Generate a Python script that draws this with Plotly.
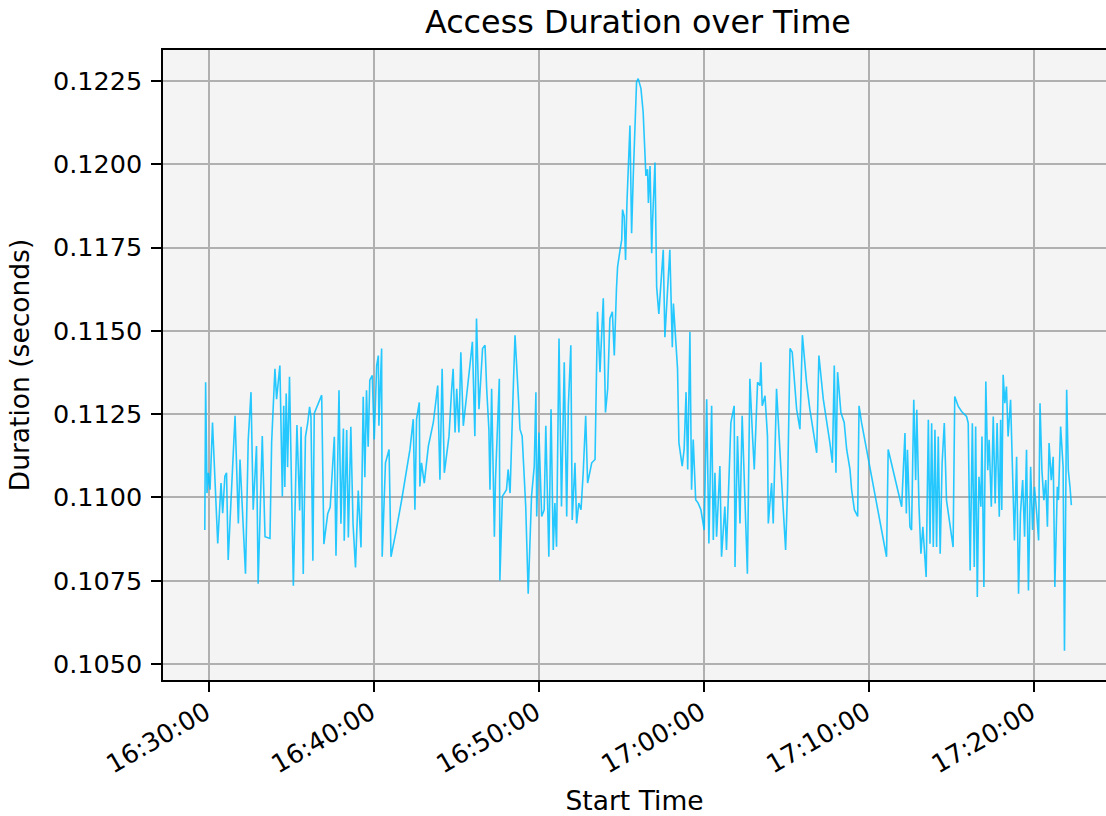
import pandas as pd
import plotly.graph_objects as go

# elapsed seconds after 16:30:00 and access duration (s)
start_base = "2024-01-01 16:30:00"
elapsed_s = [
    -15, -12, -7, -2, 4, 13, 32, 44, 50, 58,
    64, 70, 95, 107, 113, 133, 143, 153, 161, 173,
    179, 194, 204, 222, 228, 240, 246, 258, 267, 272,
    276, 281, 286, 293, 307, 320, 330, 335, 343, 351,
    359, 366, 371, 378, 383, 410, 418, 432, 441, 456,
    462, 473, 480, 489, 492, 501, 507, 516, 524, 533,
    543, 553, 561, 567, 573, 579, 585, 594, 601, 610,
    616, 618, 628, 630, 642, 655, 662, 670, 679, 701,
    713, 725, 731, 743, 749, 755, 765, 767, 773, 783,
    798, 816, 822, 832, 840, 848, 856, 873, 882, 888,
    895, 901, 909, 916, 925, 937, 949, 958, 967, 973,
    982, 995, 1004, 1010, 1018, 1022, 1028, 1038, 1042, 1056,
    1058, 1067, 1082, 1088, 1095, 1107, 1113, 1125, 1131, 1139,
    1149, 1152, 1161, 1173, 1183, 1189, 1192, 1200, 1210, 1219,
    1225, 1236, 1244, 1252, 1258, 1264, 1273, 1282, 1292, 1301,
    1307, 1316, 1321, 1331, 1337, 1345, 1353, 1361, 1370, 1377,
    1392, 1404, 1413, 1422, 1434, 1442, 1450, 1458, 1467, 1474,
    1482, 1486, 1495, 1501, 1504, 1510, 1515, 1520, 1531, 1537,
    1543, 1549, 1555, 1561, 1571, 1579, 1586, 1589, 1595, 1598,
    1604, 1610, 1613, 1622, 1628, 1636, 1652, 1658, 1676, 1685,
    1689, 1701, 1704, 1709, 1721, 1728, 1735, 1741, 1749, 1755,
    1761, 1770, 1779, 1789, 1801, 1810, 1818, 1828, 1834, 1840,
    1846, 1858, 1864, 1876, 1882, 1898, 1910, 1913, 1922, 1931,
    1939, 1958, 1967, 1976, 1983, 1995, 2004, 2007, 2012, 2022,
    2031, 2034, 2046, 2052, 2064, 2080, 2088, 2097, 2104, 2113,
    2121, 2137, 2149, 2158, 2173, 2185, 2210, 2218, 2234, 2246,
    2258, 2267, 2274, 2280, 2286, 2298, 2310, 2319, 2331, 2337,
    2347, 2359, 2364, 2373, 2464, 2470, 2494, 2519, 2531, 2536,
    2540, 2549, 2555, 2563, 2570, 2574, 2582, 2589, 2596, 2608,
    2616, 2622, 2628, 2634, 2640, 2646, 2652, 2659, 2666, 2674,
    2682, 2706, 2712, 2725, 2737, 2755, 2761, 2768, 2776, 2783,
    2788, 2794, 2800, 2807, 2811, 2818, 2825, 2832, 2837, 2845,
    2852, 2859, 2866, 2874, 2879, 2883, 2888, 2894, 2900, 2906,
    2915, 2922, 2929, 2937, 2944, 2951, 2959, 2966, 2973, 2980,
    2988, 2995, 3002, 3010, 3017, 3022, 3029, 3036, 3043, 3049,
    3055, 3063, 3070, 3076, 3085, 3089, 3097, 3106, 3111, 3119,
    3125, 3131, 3136,
]
duration_s = [
    0.10902, 0.11346, 0.11013, 0.11074, 0.11023, 0.11225, 0.10862, 0.11043, 0.10953, 0.11064,
    0.11074, 0.10812, 0.11245, 0.10922, 0.11114, 0.10771, 0.11174, 0.11316, 0.10963, 0.11154,
    0.10741, 0.11184, 0.10882, 0.10877, 0.11164, 0.11386, 0.11295, 0.11396, 0.11003, 0.11275,
    0.11031, 0.11312, 0.11091, 0.11362, 0.10735, 0.11217, 0.10961, 0.11212, 0.10770, 0.11182,
    0.11222, 0.11272, 0.11242, 0.10810, 0.11252, 0.11307, 0.10860, 0.10951, 0.10971, 0.11182,
    0.10825, 0.11322, 0.10921, 0.11207, 0.10870, 0.11202, 0.10880, 0.11212, 0.10921, 0.10790,
    0.11021, 0.10850, 0.11302, 0.11061, 0.11322, 0.11152, 0.11352, 0.11366, 0.11174, 0.11396,
    0.11426, 0.11215, 0.11447, 0.10822, 0.11104, 0.11144, 0.10822, 0.10852, 0.10892, 0.10993,
    0.11053, 0.11114, 0.11144, 0.11235, 0.10963, 0.11235, 0.11285, 0.11033, 0.11104, 0.11043,
    0.11154, 0.11225, 0.11275, 0.11336, 0.11053, 0.11386, 0.11074, 0.11184, 0.11316, 0.11386,
    0.11195, 0.11326, 0.11195, 0.11436, 0.11215, 0.11316, 0.11396, 0.11467, 0.11184, 0.11537,
    0.11265, 0.11447, 0.11457, 0.11326, 0.11205, 0.11023, 0.11326, 0.10882, 0.11053, 0.11356,
    0.10751, 0.11003, 0.11023, 0.11084, 0.11013, 0.11336, 0.11487, 0.11305, 0.11205, 0.11184,
    0.11023, 0.10973, 0.10711, 0.11003, 0.11094, 0.11316, 0.10943, 0.11195, 0.10943, 0.10963,
    0.11215, 0.10822, 0.11265, 0.10842, 0.10983, 0.10852, 0.11477, 0.10973, 0.11406, 0.10943,
    0.11275, 0.11457, 0.10932, 0.11104, 0.10922, 0.10983, 0.10963, 0.11074, 0.11245, 0.11043,
    0.11104, 0.11114, 0.11557, 0.11376, 0.11598, 0.11255, 0.11326, 0.11537, 0.11557, 0.11426,
    0.11628, 0.11692, 0.11743, 0.11773, 0.11864, 0.11844, 0.11713, 0.11884, 0.12116, 0.11793,
    0.11965, 0.12136, 0.12247, 0.12257, 0.12227, 0.12156, 0.12005, 0.11965, 0.11985, 0.11884,
    0.11995, 0.11733, 0.11824, 0.12005, 0.11632, 0.11551, 0.11743, 0.11481, 0.11743, 0.11451,
    0.11582, 0.11430, 0.11386, 0.11164, 0.11094, 0.11144, 0.11316, 0.11084, 0.11497, 0.11023,
    0.11174, 0.10993, 0.10983, 0.10963, 0.10902, 0.11295, 0.10862, 0.11275, 0.10872, 0.11074,
    0.10882, 0.11094, 0.10822, 0.10973, 0.10842, 0.11225, 0.11275, 0.10791, 0.11184, 0.10922,
    0.11245, 0.10771, 0.11356, 0.11195, 0.11084, 0.11346, 0.11336, 0.11406, 0.11275, 0.11305,
    0.11184, 0.10922, 0.11043, 0.10922, 0.11326, 0.11084, 0.10973, 0.10842, 0.11023, 0.11447,
    0.11436, 0.11265, 0.11205, 0.11487, 0.11346, 0.11265, 0.11134, 0.11426, 0.11295, 0.11235,
    0.11164, 0.11104, 0.11396, 0.11074, 0.11376, 0.11255, 0.11225, 0.11144, 0.11084, 0.11023,
    0.10963, 0.10943, 0.11275, 0.11225, 0.10822, 0.11144, 0.11062, 0.10972, 0.11193, 0.10952,
    0.11143, 0.10912, 0.10902, 0.11293, 0.11052, 0.11263, 0.10972, 0.10831, 0.10912, 0.10761,
    0.11233, 0.10861, 0.11223, 0.10851, 0.11203, 0.10851, 0.11183, 0.10831, 0.11102, 0.11223,
    0.10992, 0.10851, 0.11303, 0.11273, 0.11258, 0.11243, 0.11223, 0.10781, 0.11223, 0.10791,
    0.11213, 0.10701, 0.11062, 0.10972, 0.11183, 0.10731, 0.11348, 0.11082, 0.11173, 0.10972,
    0.11243, 0.10982, 0.11223, 0.10942, 0.11233, 0.10962, 0.11368, 0.11283, 0.11333, 0.11183,
    0.11293, 0.11102, 0.10871, 0.11122, 0.10711, 0.10952, 0.11052, 0.10882, 0.11143, 0.10721,
    0.11092, 0.10902, 0.11032, 0.10952, 0.10871, 0.11283, 0.11082, 0.10992, 0.11052, 0.10912,
    0.11163, 0.11052, 0.11122, 0.10731, 0.11032, 0.10992, 0.11213, 0.11092, 0.10540, 0.11323,
    0.11082, 0.11032, 0.10977,
]

x_range = ["2024-01-01 16:27:13", "2024-01-01 17:24:22"]
y_range = [0.10452, 0.12343]
y_ticks = [0.1050, 0.1075, 0.1100, 0.1125, 0.1150, 0.1175, 0.1200, 0.1225]

times = pd.Timestamp(start_base) + pd.to_timedelta(elapsed_s, unit="s")

FONT = "DejaVu Sans"
fig = go.Figure(
    go.Scatter(
        x=times, y=duration_s, mode="lines",
        line=dict(color="rgba(0,191,255,0.85)", width=1.6),
    )
)
fig.update_layout(
    width=1106, height=816,
    margin=dict(l=163, r=0, t=50, b=136),
    paper_bgcolor="white", plot_bgcolor="#f4f4f4",
    font=dict(family=FONT, size=25.5, color="black"),
    title=dict(text="Access Duration over Time", x=0.5768, xanchor="center",
               y=0.973, yanchor="middle", font=dict(size=31.8)),
    showlegend=False,
)
fig.update_xaxes(
    range=x_range, tickformat="%H:%M:%S", dtick=600000,
    tick0="2024-01-01 16:30:00", tickangle=-30,
    showgrid=True, gridcolor="#b0b0b0", gridwidth=1.5,
    showline=True, linecolor="black", linewidth=1.5, mirror=True,
    ticks="outside", ticklen=10, tickwidth=1.5, tickcolor="black",
    ticklabelstandoff=-4, ticklabelshift=-3,
    title=dict(text="Start Time", font=dict(size=26.5), standoff=16),
    zeroline=False,
)
fig.update_yaxes(
    range=y_range, tickvals=y_ticks, tickformat=".4f",
    showgrid=True, gridcolor="#b0b0b0", gridwidth=1.5,
    showline=True, linecolor="black", linewidth=1.5, mirror=False,
    ticks="outside", ticklen=10, tickwidth=1.5, tickcolor="black",
    ticklabelstandoff=4,
    title=dict(text="Duration (seconds)", font=dict(size=26.5), standoff=16),
    zeroline=False,
)
fig.write_html("out.html", config={"displayModeBar": False})

# remove the browser's default page margin so the figure fills the window
with open("out.html", "r", encoding="utf-8") as fh:
    page = fh.read()
page = page.replace("<head>", "<head><style>html,body{margin:0;padding:0;overflow:hidden}</style>", 1)
with open("out.html", "w", encoding="utf-8") as fh:
    fh.write(page)
